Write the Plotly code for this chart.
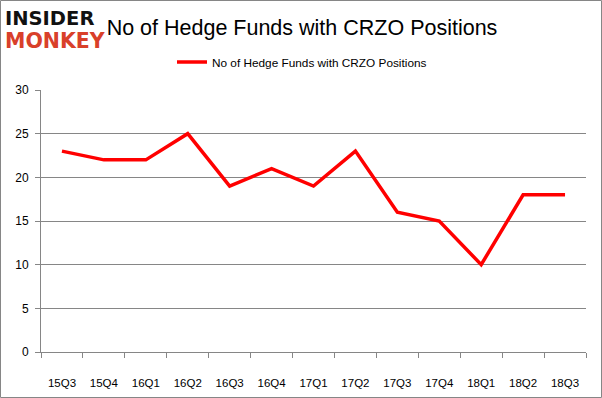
import plotly.graph_objects as go

quarters = ["15Q3","15Q4","16Q1","16Q2","16Q3","16Q4","17Q1","17Q2","17Q3","17Q4","18Q1","18Q2","18Q3"]
funds = [23,22,22,25,19,21,19,23,16,15,10,18,18]
series_name = "No of Hedge Funds with CRZO Positions"
y_ticks = [0,5,10,15,20,25,30]

W, H = 602, 398
ml, mr, mt, mb = 41, 16, 90, 46

fig = go.Figure()
fig.add_trace(go.Scatter(x=quarters, y=funds, mode="lines", name=series_name,
                         line=dict(color="#ff0000", width=3.5)))

pw = W - ml - mr
ph = H - mt - mb
def px_x(p): return (p - ml) / pw
def px_y(p): return (H - mb - p) / ph

fig.update_layout(
    width=W, height=H,
    margin=dict(l=ml, r=mr, t=mt, b=mb, autoexpand=False),
    paper_bgcolor="white", plot_bgcolor="white",
    font=dict(family="Liberation Sans, Arial, sans-serif", color="#000000", size=12),
    showlegend=True,
    legend=dict(orientation="h", x=px_x(172), y=px_y(62), xanchor="left", yanchor="middle",
                font=dict(size=11.8), bgcolor="rgba(0,0,0,0)"),
    title=dict(text=series_name, x=302/W, xref="container", xanchor="center",
               y=1 - 27/H, yref="container", yanchor="middle",
               font=dict(size=21.5, family="Liberation Sans, Arial, sans-serif", color="#000000")),
    xaxis=dict(type="category", range=[-0.5, len(quarters)-0.5], showgrid=False,
               showline=True, linecolor="#868686", automargin=False,
               ticks="outside", tickson="boundaries", ticklen=5, tickcolor="#868686",
               ticklabelstandoff=20, tickfont=dict(size=11.5), fixedrange=True),
    yaxis=dict(range=[0,30], tickvals=y_ticks, showgrid=True, gridcolor="#868686", gridwidth=1,
               showline=True, linecolor="#868686", ticks="outside", ticklen=5, tickcolor="#868686",
               automargin=False, ticklabelstandoff=4, zeroline=False, tickfont=dict(size=12),
               fixedrange=True),
)

fig.add_annotation(text="<b>INSIDER</b>", xref="paper", yref="paper", x=px_x(3), y=px_y(18),
                   xanchor="left", yanchor="middle", showarrow=False,
                   font=dict(size=19.5, family="DejaVu Sans, sans-serif", color="#111111"))
fig.add_annotation(text="<b>MONKEY</b>", xref="paper", yref="paper", x=px_x(3), y=px_y(41),
                   xanchor="left", yanchor="middle", showarrow=False,
                   font=dict(size=20.5, family="DejaVu Sans, sans-serif", color="#d9402a"))

fig.add_shape(type="rect", xref="paper", yref="paper",
              x0=px_x(0.5), x1=px_x(W-0.5), y0=px_y(H-0.5), y1=px_y(0.5),
              line=dict(color="#868686", width=1), fillcolor="rgba(0,0,0,0)", layer="below")

fig.write_html("out.html", config={"displayModeBar": False},
               post_script="document.body.style.margin='0';document.body.style.overflow='hidden';")
